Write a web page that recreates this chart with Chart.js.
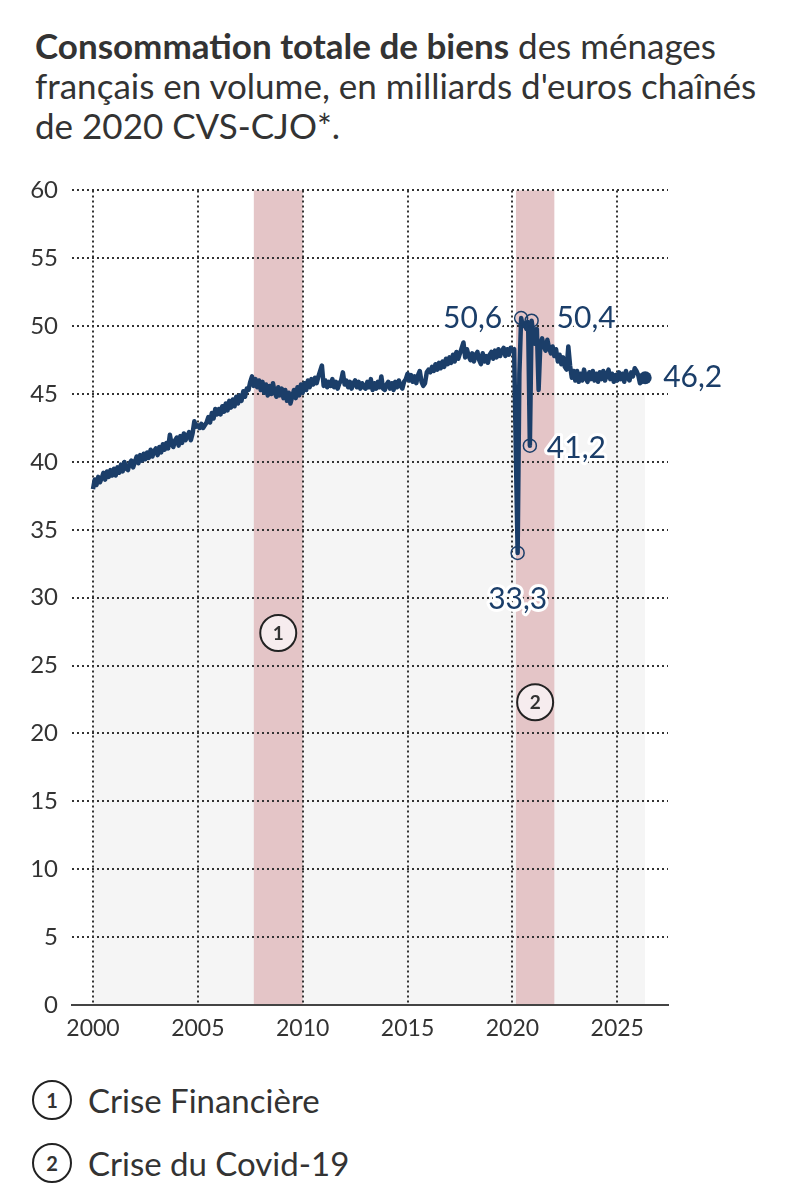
<!DOCTYPE html>
<html lang="fr">
<head>
<meta charset="utf-8">
<script src="https://cdn.jsdelivr.net/npm/chart.js@4.4.1/dist/chart.umd.min.js"></script>
<style>
  body { margin: 0; background: #fff; width: 794px; height: 1200px; position: relative; font-family: Lato, 'Noto Sans', sans-serif; color: #333; }
  h1 { position: absolute; left: 35px; top: 25px; margin: 0; font-size: 35px; line-height: 40px; font-weight: normal; color: #333; white-space: nowrap; }
  h1 b { font-weight: bold; }
  #wrap { position: absolute; left: 0; top: 162px; width: 794px; height: 893px; }
  .legend { position: absolute; left: 32px; display: flex; align-items: center; font-size: 33px; }
  .num { box-sizing: border-box; width: 40px; height: 40px; border: 2px solid #222; border-radius: 50%; text-align: center; line-height: 36px; font-weight: bold; font-size: 20px; margin-right: 16px; }
</style>
</head>
<body>
<h1><b>Consommation totale de biens</b> des ménages<br>français en volume, en milliards d'euros chaînés<br>de 2020 CVS-CJO*.</h1>
<div id="wrap"><canvas id="chart"></canvas></div>
<div class="legend" style="top:1080px"><div class="num">1</div>Crise Financière</div>
<div class="legend" style="top:1143px"><div class="num">2</div>Crise du Covid-19</div>
<script>
// Monthly values, one row per year, starting January 2000
const startYear = 2000;
const consumption = [
  38.0, 38.7, 38.3, 38.9, 38.5, 38.8, 39.2, 38.7, 39.3, 38.9, 39.4, 39.0, // 2000
  39.5, 39.0, 39.6, 39.2, 39.8, 39.3, 40.0, 39.5, 39.4, 39.9, 40.1, 39.6, // 2001
  40.0, 40.4, 39.9, 40.5, 40.1, 40.6, 40.2, 40.7, 40.3, 40.9, 40.4, 40.8, // 2002
  41.0, 40.5, 41.1, 40.7, 41.3, 40.9, 41.4, 41.0, 42.0, 41.3, 41.1, 41.6, // 2003
  41.8, 41.2, 41.9, 41.4, 42.1, 41.6, 41.9, 42.2, 41.6, 42.1, 43.0, 42.6, // 2004
  42.7, 42.5, 42.8, 42.5, 42.7, 42.9, 43.3, 42.9, 43.6, 43.2, 43.9, 43.5, // 2005
  43.9, 43.5, 44.1, 43.7, 44.3, 43.8, 44.5, 44.0, 44.6, 44.1, 44.8, 44.3, // 2006
  44.9, 44.5, 45.2, 44.8, 45.4, 45.3, 45.9, 46.3, 45.6, 46.1, 45.5, 46.0, // 2007
  45.3, 45.9, 45.1, 45.7, 44.9, 45.6, 45.0, 45.8, 45.1, 44.8, 45.5, 44.9, // 2008
  45.4, 44.7, 45.3, 44.5, 45.1, 44.3, 44.8, 45.3, 44.7, 45.5, 44.9, 45.7, // 2009
  45.1, 45.8, 45.3, 46.0, 45.5, 46.1, 45.7, 46.2, 45.8, 46.3, 46.7, 47.1, // 2010
  45.6, 46.0, 45.5, 45.9, 45.6, 46.1, 45.5, 45.9, 45.4, 45.8, 46.0, 46.6, // 2011
  45.7, 46.0, 45.5, 45.9, 45.4, 45.8, 46.0, 45.5, 45.9, 45.4, 45.8, 45.5, // 2012
  45.4, 45.9, 45.5, 46.1, 45.3, 45.8, 45.4, 45.9, 45.5, 46.3, 45.4, 45.3, // 2013
  45.7, 45.9, 45.4, 45.8, 45.3, 45.9, 45.5, 46.0, 45.6, 45.4, 45.9, 46.1, // 2014
  46.5, 46.0, 46.4, 45.9, 46.3, 45.8, 46.4, 46.7, 45.9, 45.6, 45.8, 46.6, // 2015
  46.8, 46.6, 47.0, 46.7, 47.2, 46.8, 47.3, 46.9, 47.4, 47.0, 47.6, 47.2, // 2016
  47.7, 47.3, 47.9, 47.4, 48.1, 47.6, 48.0, 48.4, 48.8, 47.7, 48.3, 47.8, // 2017
  47.5, 48.0, 47.4, 47.9, 48.1, 47.5, 47.2, 48.0, 47.4, 47.8, 47.3, 47.9, // 2018
  48.1, 47.6, 48.2, 47.7, 48.3, 47.8, 48.2, 48.4, 47.8, 48.3, 47.9, 48.4, // 2019
  48.2, 48.3, 40.5, 33.3, 46.5, 50.6, 50.0, 50.2, 49.8, 50.3, 41.2, 50.4, // 2020
  49.5, 48.7, 49.8, 45.3, 48.7, 49.1, 48.5, 48.2, 49.0, 48.4, 48.0, 48.5, // 2021
  47.8, 48.3, 47.4, 47.9, 47.2, 47.7, 47.0, 46.8, 48.5, 47.1, 46.2, 46.7, // 2022
  46.0, 46.7, 45.9, 46.5, 46.0, 46.8, 46.2, 45.9, 46.6, 46.1, 46.7, 46.0, // 2023
  46.5, 45.9, 46.6, 46.1, 46.7, 46.0, 46.4, 46.8, 46.1, 46.5, 45.9, 46.4, // 2024
  46.0, 46.6, 46.1, 46.5, 45.9, 46.7, 46.2, 46.0, 46.6, 46.3, 46.9, 46.7, // 2025
  46.4, 45.8, 45.9, 46.1, 46.2                                            // 2026
];

const xTicks = [2000, 2005, 2010, 2015, 2020, 2025];
const yMax = 60;
const greyCap = 45;

// crisis periods (shaded bands)
const crisisStart = [2007.67, 2020.17];
const crisisEnd = [2010.0, 2022.0];
const crisisMarkerY = [27.4, 22.3];

// labelled points: index in the monthly series and text
const calloutIndex = [243, 245, 250, 251, consumption.length - 1];
const calloutText = ['33,3', '50,6', '41,2', '50,4', '46,2'];

const NAVY = '#1b3e69';
const points = consumption.map((v, i) => ({ x: startYear + i / 12, y: v }));
const greyArea = consumption.map((v, i) => ({ x: startYear + i / 12, y: Math.min(v, greyCap) }));

const overlay = {
  id: 'overlay',
  beforeDraw(chart) {
    const { ctx, chartArea, scales: { x } } = chart;
    ctx.save();
    ctx.fillStyle = '#e4c5c7';
    crisisStart.forEach((s, i) => {
      const x1 = x.getPixelForValue(s), x2 = x.getPixelForValue(crisisEnd[i]);
      ctx.fillRect(x1, chartArea.top, x2 - x1, chartArea.bottom - chartArea.top);
    });
    ctx.restore();
  },
  afterDatasetsDraw(chart) {
    const { ctx, scales: { x, y } } = chart;
    ctx.save();
    // callouts
    const place = ['below', 'left', 'right', 'right', 'end'];
    ctx.font = '30px Lato, sans-serif';
    ctx.textBaseline = 'middle';
    calloutIndex.forEach((idx, i) => {
      const px = x.getPixelForValue(points[idx].x);
      const py = y.getPixelForValue(points[idx].y);
      ctx.beginPath();
      ctx.arc(px, py, 6.5, 0, Math.PI * 2);
      if (place[i] === 'end') {
        ctx.fillStyle = NAVY;
        ctx.fill();
      } else {
        ctx.strokeStyle = NAVY;
        ctx.lineWidth = 1.5;
        ctx.stroke();
      }
      let tx = px, ty = py;
      if (place[i] === 'below') { ctx.textAlign = 'center'; ty = py + 46; }
      else if (place[i] === 'left') { ctx.textAlign = 'right'; tx = px - 19; }
      else if (place[i] === 'right') { ctx.textAlign = 'left'; tx = px + (i === 2 ? 17 : 25); ty = py + (i === 2 ? 3 : -2); }
      else { ctx.textAlign = 'left'; tx = px + 18; }
      ctx.lineJoin = 'round';
      ctx.lineWidth = 6;
      ctx.strokeStyle = '#fff';
      ctx.strokeText(calloutText[i], tx, ty);
      ctx.fillStyle = NAVY;
      ctx.fillText(calloutText[i], tx, ty);
    });
    // numbered crisis markers
    ctx.font = 'bold 19px Lato, sans-serif';
    ctx.textAlign = 'center';
    crisisStart.forEach((s, i) => {
      const cx = x.getPixelForValue((s + crisisEnd[i]) / 2);
      const cy = y.getPixelForValue(crisisMarkerY[i]);
      ctx.beginPath();
      ctx.arc(cx, cy, 18, 0, Math.PI * 2);
      ctx.fillStyle = '#f6ecee';
      ctx.fill();
      ctx.lineWidth = 2;
      ctx.strokeStyle = '#222';
      ctx.stroke();
      ctx.fillStyle = '#333';
      ctx.fillText(String(i + 1), cx, cy + 1);
    });
    ctx.restore();
  }
};

Chart.defaults.font.family = 'Lato, sans-serif';
Chart.defaults.color = '#333';

new Chart(document.getElementById('chart'), {
  type: 'line',
  data: {
    datasets: [
      {
        data: points,
        borderColor: NAVY,
        borderWidth: 4.5,
        borderJoinStyle: 'round',
        pointRadius: 0,
        tension: 0,
        fill: false
      },
      {
        data: greyArea,
        borderWidth: 0,
        pointRadius: 0,
        backgroundColor: '#f5f5f5',
        fill: 'origin'
      }
    ]
  },
  options: {
    responsive: true,
    maintainAspectRatio: false,
    animation: false,
    layout: { padding: { top: 13, right: 126, left: 0, bottom: 0 } },
    plugins: {
      legend: { display: false },
      tooltip: { enabled: false },
      filler: { drawTime: 'beforeDraw' }
    },
    scales: {
      x: {
        type: 'linear',
        min: 1999.0,
        max: 2027.42,
        afterBuildTicks: s => { s.ticks = xTicks.map(v => ({ value: v })); },
        afterFit: s => { s.height = 50; },
        ticks: { font: { size: 23 }, padding: 10, callback: v => String(v), maxRotation: 0 },
        grid: { color: '#333', lineWidth: 2, drawTicks: false },
        border: { display: true, color: '#444', width: 2, dash: [2, 3] }
      },
      y: {
        min: 0,
        max: yMax,
        afterFit: s => { s.width = 72; },
        ticks: { stepSize: 5, font: { size: 24 }, padding: 14 },
        grid: { color: '#333', lineWidth: 2, drawTicks: false },
        border: { display: false, dash: [2, 3] }
      }
    }
  },
  plugins: [overlay]
});
</script>
</body>
</html>
